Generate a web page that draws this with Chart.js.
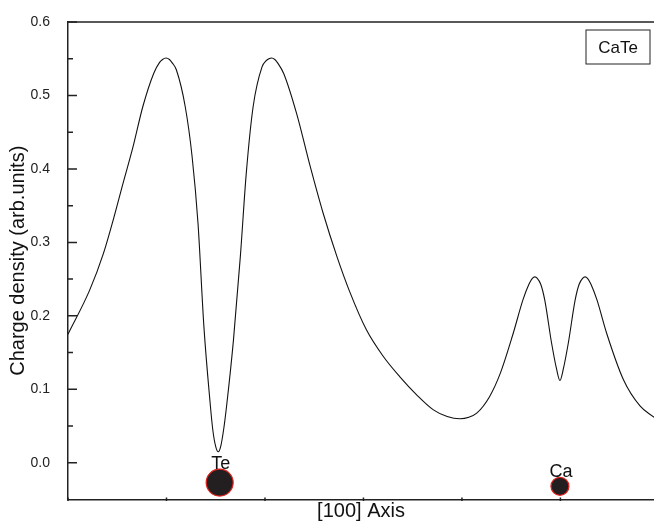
<!DOCTYPE html>
<html lang="en">
<head>
  <meta charset="UTF-8">
  <title>CaTe charge density</title>
  <script src="https://cdn.jsdelivr.net/npm/chart.js"></script>
  <style>
    body { margin: 0; background: #fff; overflow: hidden; }
  </style>
</head>
<body>
  <canvas id="myChart" width="654" height="525"></canvas>

  <script>
    // position along [100] (tick units) and charge density
    const axisPos = [0.00, 0.22, 0.36, 0.46, 0.56, 0.66, 0.76, 0.87, 0.93, 0.96, 0.995, 1.03, 1.06, 1.10, 1.19, 1.26, 1.32, 1.38,
      1.44, 1.47, 1.50, 1.526, 1.55, 1.58, 1.61, 1.68, 1.75, 1.81, 1.88, 1.97, 2.01, 2.04, 2.068, 2.10, 2.13, 2.19, 2.32, 2.46,
      2.59, 2.73, 2.86, 3.03, 3.20, 3.37, 3.54, 3.71, 3.85, 3.98, 4.07, 4.15, 4.28, 4.39, 4.52, 4.62, 4.68, 4.715, 4.74, 4.765,
      4.80, 4.84, 4.91, 4.96, 4.995, 5.03, 5.08, 5.15, 5.19, 5.225, 5.25, 5.275, 5.31, 5.37, 5.47, 5.64, 5.81, 5.95];
    const density = [0.175, 0.235, 0.285, 0.331, 0.381, 0.430, 0.485, 0.530, 0.545, 0.549, 0.551, 0.549, 0.544, 0.535, 0.485, 0.417, 0.326, 0.185,
      0.086, 0.045, 0.022, 0.015, 0.022, 0.045, 0.077, 0.167, 0.281, 0.394, 0.485, 0.539, 0.547, 0.550, 0.551, 0.549, 0.544, 0.530, 0.476, 0.403,
      0.340, 0.281, 0.233, 0.181, 0.145, 0.117, 0.0925, 0.072, 0.063, 0.060, 0.062, 0.0675, 0.090, 0.122, 0.176, 0.222, 0.243, 0.251, 0.253, 0.251,
      0.243, 0.222, 0.163, 0.128, 0.112, 0.128, 0.163, 0.222, 0.243, 0.251, 0.253, 0.251, 0.243, 0.222, 0.176, 0.113, 0.077, 0.062];

    // atoms sitting under the axis
    const atomNames = ['Te', 'Ca'];
    const atomPos = [1.54, 4.995];
    const atomLevel = [-0.027, -0.032];

    const yTicks = [0.0, 0.1, 0.2, 0.3, 0.4, 0.5, 0.6];
    const yMinor = [0.05, 0.15, 0.25, 0.35, 0.45, 0.55];
    const xTicks = [0, 1, 2, 3, 4, 5];

    const axisColor = '#222';
    const fontFamily = '"Liberation Sans", Arial, sans-serif';

    const curve = axisPos.map((x, i) => ({ x: x, y: density[i] }));
    const atoms = atomPos.map((x, i) => ({ x: x, y: atomLevel[i] }));

    // inward ticks, top frame line, atom labels and the CaTe box
    const decorPlugin = {
      id: 'decor',
      afterDraw(chart) {
        const ctx = chart.ctx;
        const area = chart.chartArea;
        const xs = chart.scales.x;
        const ys = chart.scales.y;
        ctx.save();
        ctx.strokeStyle = axisColor;
        ctx.lineWidth = 1.5;

        ctx.beginPath();
        ctx.moveTo(area.left, area.top);
        ctx.lineTo(area.right, area.top);
        ctx.stroke();

        ctx.beginPath();
        yTicks.forEach(v => {
          const py = ys.getPixelForValue(v);
          ctx.moveTo(area.left, py);
          ctx.lineTo(area.left + 9, py);
        });
        yMinor.forEach(v => {
          const py = ys.getPixelForValue(v);
          ctx.moveTo(area.left, py);
          ctx.lineTo(area.left + 5, py);
        });
        xTicks.forEach(v => {
          const px = xs.getPixelForValue(v);
          ctx.moveTo(px, area.bottom + 1.5);
          ctx.lineTo(px, area.bottom - 2);
        });
        ctx.stroke();

        // atom labels
        const meta = chart.getDatasetMeta(1);
        ctx.fillStyle = '#111';
        ctx.font = '18px ' + fontFamily;
        ctx.textAlign = 'center';
        ctx.textBaseline = 'alphabetic';
        meta.data.forEach((pt, i) => {
          const r = pt.options.radius;
          ctx.fillText(atomNames[i], pt.x + 1, pt.y - r);
        });

        // CaTe box
        ctx.lineWidth = 1;
        ctx.strokeRect(area.right - 68, area.top + 8, 64, 34);
        ctx.font = '17px ' + fontFamily;
        ctx.textBaseline = 'middle';
        ctx.fillText('CaTe', area.right - 36, area.top + 26);
        ctx.restore();
      }
    };

    new Chart(document.getElementById('myChart'), {
      type: 'scatter',
      data: {
        datasets: [{
          data: curve,
          showLine: true,
          borderColor: '#111',
          borderWidth: 1.1,
          pointRadius: 0,
          cubicInterpolationMode: 'monotone',
          fill: false
        }, {
          data: atoms,
          showLine: false,
          pointRadius: [13.5, 9],
          pointStyle: 'circle',
          backgroundColor: '#231f20',
          borderColor: '#e3221d',
          borderWidth: 1.2,
          clip: false
        }]
      },
      options: {
        responsive: false,
        animation: false,
        layout: { autoPadding: false, padding: { top: 22, right: 0, left: 0, bottom: 0 } },
        plugins: {
          legend: { display: false },
          tooltip: { enabled: false }
        },
        scales: {
          x: {
            type: 'linear',
            min: 0,
            max: 5.95,
            grid: { display: false },
            border: { display: true, color: axisColor, width: 1.5 },
            ticks: { display: false },
            afterFit(scale) {
              scale.height = 25.5;
              scale.paddingLeft = 0;
              scale.paddingRight = 0;
            },
            title: {
              display: true,
              text: '[100] Axis',
              color: '#111',
              font: { family: fontFamily, size: 20 },
              padding: { top: 0, bottom: 2 }
            }
          },
          y: {
            min: -0.05,
            max: 0.6,
            grid: { display: false },
            border: { display: true, color: axisColor, width: 1.5 },
            afterBuildTicks(scale) { scale.ticks = yTicks.map(v => ({ value: v })); },
            afterFit(scale) {
              scale.width = 68;
              scale.paddingTop = 0;
              scale.paddingBottom = 0;
            },
            ticks: {
              color: '#222',
              padding: 10,
              font: { family: fontFamily, size: 14 },
              callback: v => v.toFixed(1)
            },
            title: {
              display: true,
              text: 'Charge density (arb.units)',
              color: '#111',
              font: { family: fontFamily, size: 20 },
              padding: { top: 6, bottom: 0 }
            }
          }
        }
      },
      plugins: [decorPlugin]
    });
  </script>
</body>
</html>
